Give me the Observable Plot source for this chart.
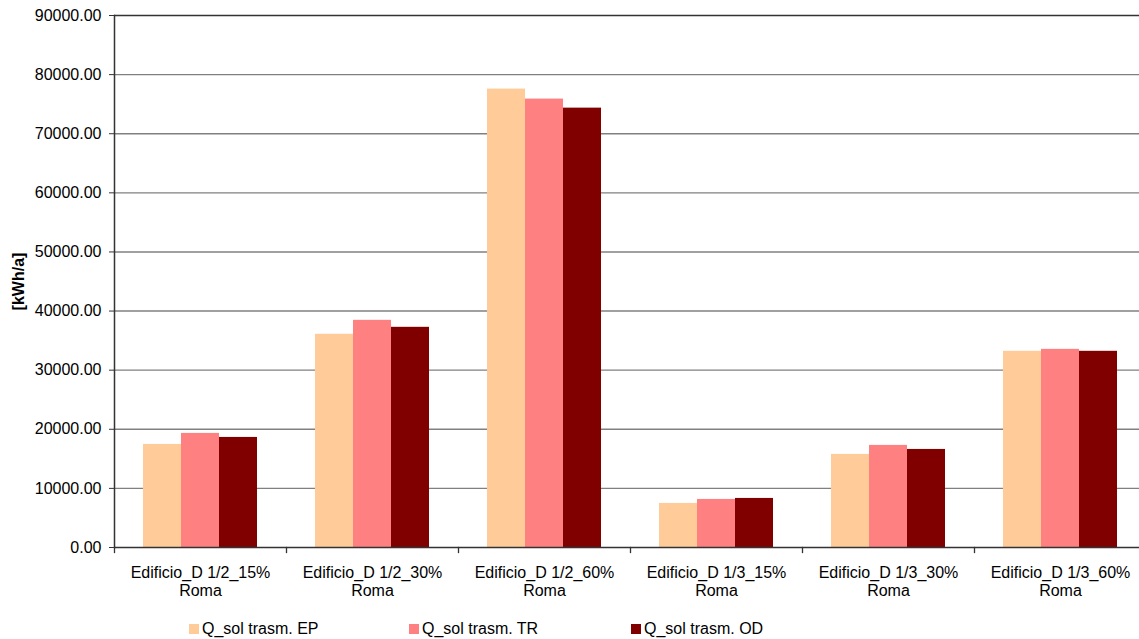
<!DOCTYPE html>
<html>
<head>
<meta charset="utf-8">
<script src="https://cdn.jsdelivr.net/npm/d3@7"></script>
<script src="https://cdn.jsdelivr.net/npm/@observablehq/plot@0.6"></script>
<style>
  body { margin: 0; background: #fff; font-family: "Liberation Sans", Arial, sans-serif; }
  #chart svg { overflow: visible; }
  #chart [aria-label="y-axis label"] text, #chart [aria-label="y-axis label"] { font-weight: bold; }
  #legend { position: relative; height: 18px; margin-top: 8px; font-size: 16px; line-height: 18px; color: #000; }
  #legend .item { position: absolute; top: 0; display: flex; align-items: center; white-space: nowrap; }
  #legend .sw { width: 10px; height: 10px; margin-right: 3px; }
</style>
</head>
<body>
<div id="chart"></div>
<div id="legend"></div>
<script>
const categories = ["Edificio_D 1/2_15%", "Edificio_D 1/2_30%", "Edificio_D 1/2_60%", "Edificio_D 1/3_15%", "Edificio_D 1/3_30%", "Edificio_D 1/3_60%"];
const subLabel = "Roma";
const seriesNames = ["Q_sol trasm. EP", "Q_sol trasm. TR", "Q_sol trasm. OD"];
const seriesColors = ["#FFCC99", "#FF8080", "#800000"];
const valuesEP = [17440, 36070, 77550, 7450, 15750, 33190];
const valuesTR = [19300, 38430, 75860, 8130, 17270, 33520];
const valuesOD = [18620, 37250, 74330, 8300, 16590, 33190];
const yTicks = [0, 10000, 20000, 30000, 40000, 50000, 60000, 70000, 80000, 90000];
const yLabel = "[kWh/a]";

const seriesValues = [valuesEP, valuesTR, valuesOD];
const rows = [];
categories.forEach((c, i) => seriesNames.forEach((s, j) => rows.push({cat: c, series: s, value: seriesValues[j][i]})));

const W = 1139, H = 612, mTop = 15, mBottom = 65, mLeft = 113, mRight = -8;
const innerH = H - mTop - mBottom;

const chart = Plot.plot({
  width: W,
  height: H,
  marginTop: mTop,
  marginBottom: mBottom,
  marginLeft: mLeft,
  marginRight: mRight,
  style: {fontFamily: "'Liberation Sans', Arial, sans-serif", fontSize: "16px", color: "#000", background: "#fff"},
  fx: {domain: categories, padding: 0, label: null},
  x: {domain: seriesNames, paddingInner: 0, paddingOuter: 0.725, axis: null},
  y: {domain: [0, 90000], label: null},
  color: {domain: seriesNames, range: seriesColors},
  marks: [
    Plot.ruleY(yTicks.slice(1, -1), {stroke: "#808080", strokeWidth: 1.4}),
    Plot.ruleY([yTicks[yTicks.length - 1]], {stroke: "#333", strokeWidth: 1.4}),
    Plot.barY(rows, {fx: "cat", x: "series", y: "value", fill: "series"}),
    Plot.ruleY([0], {stroke: "#333", strokeWidth: 1.5}),
    Plot.frame({anchor: "left", facetAnchor: "left", stroke: "#333", strokeWidth: 1.5}),
    Plot.frame({anchor: "left", insetTop: innerH, insetBottom: -5, stroke: "#333", strokeWidth: 1.3}),
    Plot.axisY({
      ticks: yTicks,
      tickFormat: d3.format(".2f"),
      tickSize: 5,
      tickPadding: 8,
      stroke: "#333",
      fontSize: 16,
      label: yLabel,
      labelAnchor: "center",
      labelOffset: 102,
      labelArrow: "none"
    }),
    Plot.axisFx({
      anchor: "bottom",
      tickSize: 0,
      tickPadding: 18,
      fontSize: 16,
      lineHeight: 1.13,
      label: null,
      tickFormat: d => d + "\n" + subLabel
    })
  ]
});
document.getElementById("chart").appendChild(chart);

const legend = document.getElementById("legend");
const legendX = [189, 409, 631];
seriesNames.forEach((s, i) => {
  const item = document.createElement("div");
  item.className = "item";
  item.style.left = legendX[i] + "px";
  const sw = document.createElement("span");
  sw.className = "sw";
  sw.style.background = seriesColors[i];
  const t = document.createElement("span");
  t.textContent = s;
  item.appendChild(sw);
  item.appendChild(t);
  legend.appendChild(item);
});
</script>
</body>
</html>
